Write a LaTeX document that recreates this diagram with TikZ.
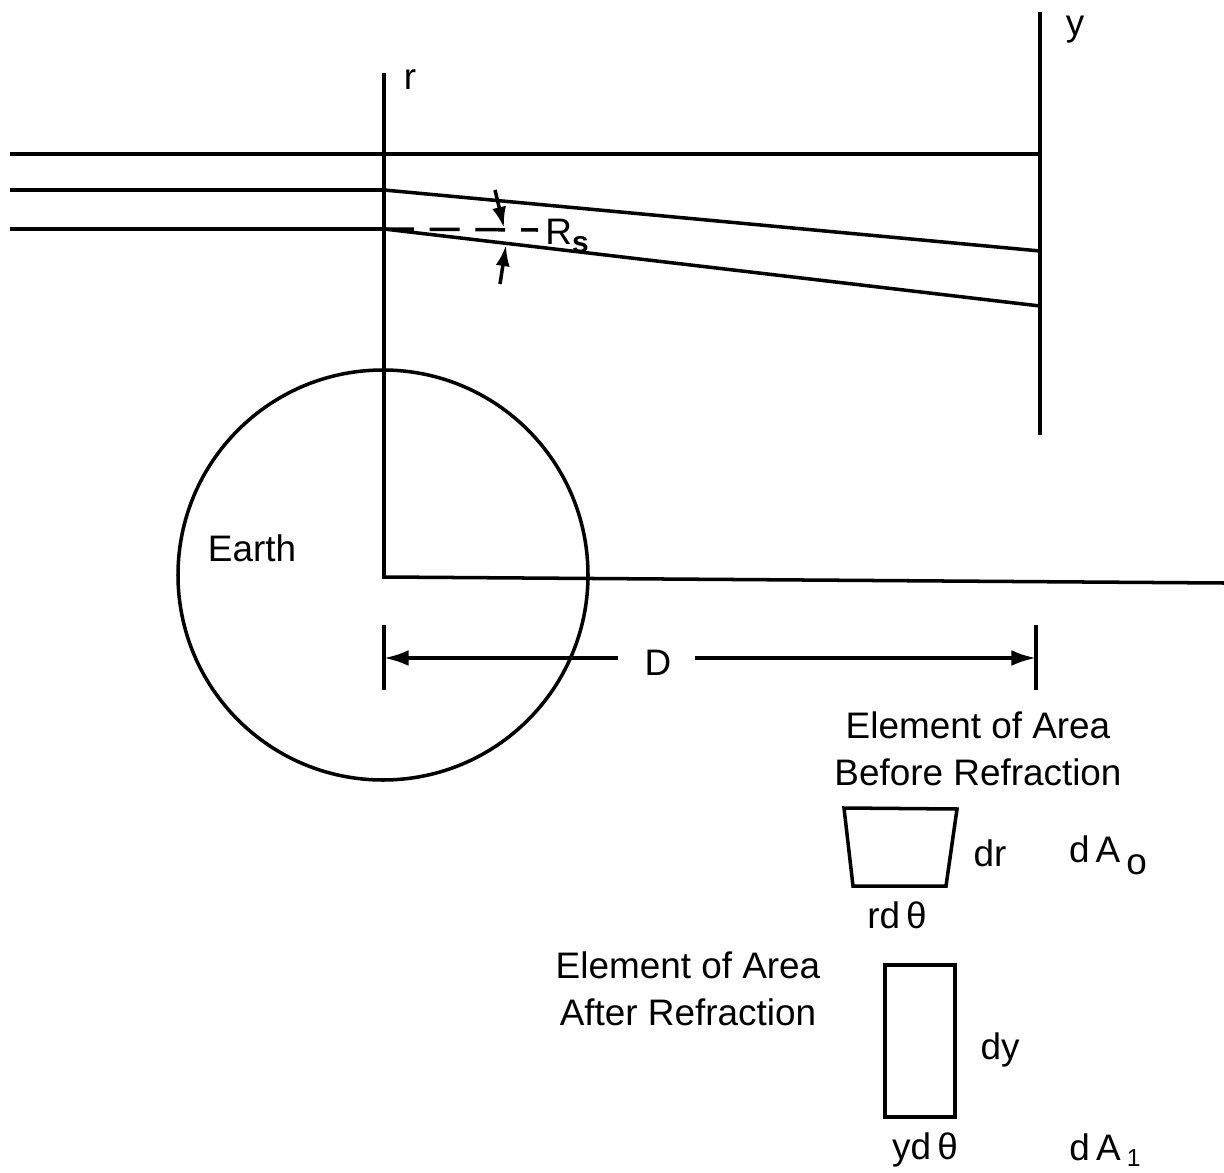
\documentclass[tikz,border=0pt]{standalone}
\usepackage{fontspec}
\setmainfont{Liberation Sans}
\usetikzlibrary{arrows.meta}
\begin{document}
\begin{tikzpicture}[x=0.02cm,y=-0.02cm,
  ln/.style={line width=2pt},
  lbl/.style={inner sep=0pt,font=\fontsize{21}{25}\selectfont},
  arr/.style={ln,-{Latex[length=12pt,width=8pt]}}]
\useasboundingbox (0,0) rectangle (1224,1173);
% axes
\coordinate (rtop) at (384,73);
\coordinate (O) at (384,577);
\coordinate (Hend) at (1224,583);
\coordinate (ytop) at (1040,12);
\coordinate (ybot) at (1040,435);
\draw[ln] (rtop) -- (O) -- (Hend);
\draw[ln] (ytop) -- (ybot);
\node[lbl] (rlab) at (410,80) {r};
\node[lbl] (ylab) at (1075,30) {y};
% rays
\coordinate (a0) at (10,154); \coordinate (a2) at (1040,154);
\coordinate (b0) at (10,190); \coordinate (b1) at (384,190); \coordinate (b2) at (1040,251);
\coordinate (c0) at (10,229); \coordinate (c1) at (384,229); \coordinate (c2) at (1040,306);
\draw[ln] (a0) -- (a2);
\draw[ln] (b0) -- (b1) -- (b2);
\draw[ln] (c0) -- (c1) -- (c2);
% Rs
\coordinate (d1) at (538,230);
\draw[ln,dash pattern=on 17pt off 9pt] (c1) -- (d1);
\node[lbl,anchor=west] (Rs) at (545,236) {R\raisebox{-5pt}{\textbf{\fontsize{17}{20}\selectfont s}}};
\coordinate (u0) at (495,190); \coordinate (u1) at (504,228);
\coordinate (l0) at (500,284); \coordinate (l1) at (506,245);
\draw[arr] (u0) -- (u1);
\draw[arr] (l0) -- (l1);
% Earth
\node[draw,ln,circle,minimum size=410*0.02cm,inner sep=0pt] (earth) at (383,575) {};
\node[lbl] (earthlab) at (252,548) {Earth};
% D dimension
\coordinate (t1a) at (384,625); \coordinate (t1b) at (384,690);
\coordinate (t2a) at (1036,625); \coordinate (t2b) at (1036,690);
\draw[ln] (t1a) -- (t1b);
\draw[ln] (t2a) -- (t2b);
\node[lbl] (D) at (658,663) {D};
\coordinate (dl) at (384,658); \coordinate (dr) at (1036,658);
\coordinate (dlm) at (618,658); \coordinate (drm) at (695,658);
\draw[ln,{Latex[length=14pt,width=9pt]}-] (dl) -- (dlm);
\draw[ln,-{Latex[length=14pt,width=9pt]}] (drm) -- (dr);
% element before
\node[lbl,align=center] (before) at (978,749) {Element of Area\\[2pt]Before Refraction};
\coordinate (p1) at (844,808); \coordinate (p2) at (957,809);
\coordinate (p3) at (946,886); \coordinate (p4) at (853,886);
\draw[ln] (p1) -- (p2) -- (p3) -- (p4) -- cycle;
\node[lbl] (drlab) at (990,853) {dr};
\node[lbl] (dA0) at (1108,855) {d\,A\,\raisebox{-7pt}{o}};
\node[lbl] (rdth) at (897,915) {rd\,θ};
% element after
\node[lbl,align=center] (after) at (688,989) {Element of Area\\[2pt]After Refraction};
\coordinate (q1) at (885,965); \coordinate (q2) at (955,1117);
\draw[ln] (q1) rectangle (q2);
\node[lbl] (dylab) at (1000,1050) {dy};
\node[lbl] (ydth) at (925,1150) {yd\,θ};
\node[lbl] (dA1) at (1105,1150) {d\,A\,\raisebox{-3pt}{\fontsize{14}{16}\selectfont 1}};
\end{tikzpicture}
\end{document}
